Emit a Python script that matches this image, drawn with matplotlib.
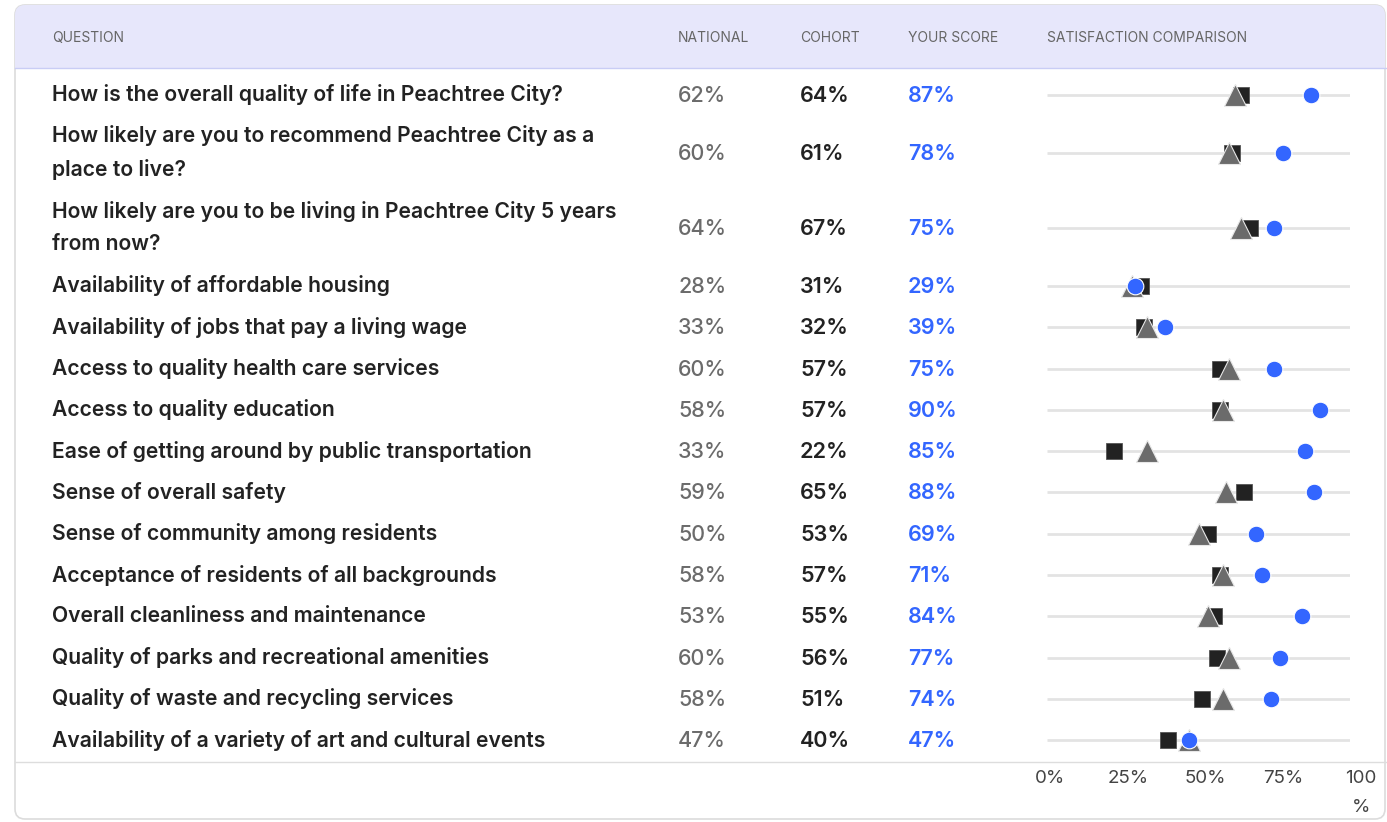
import matplotlib.pyplot as plt
from matplotlib.patches import FancyBboxPatch, Rectangle
from matplotlib.transforms import ScaledTranslation

questions = [
    "How is the overall quality of life in Peachtree City?",
    "How likely are you to recommend Peachtree City as a\nplace to live?",
    "How likely are you to be living in Peachtree City 5 years\nfrom now?",
    "Availability of affordable housing",
    "Availability of jobs that pay a living wage",
    "Access to quality health care services",
    "Access to quality education",
    "Ease of getting around by public transportation",
    "Sense of overall safety",
    "Sense of community among residents",
    "Acceptance of residents of all backgrounds",
    "Overall cleanliness and maintenance",
    "Quality of parks and recreational amenities",
    "Quality of waste and recycling services",
    "Availability of a variety of art and cultural events",
]
national = [62, 60, 64, 28, 33, 60, 58, 33, 59, 50, 58, 53, 60, 58, 47]
cohort = [64, 61, 67, 31, 32, 57, 57, 22, 65, 53, 57, 55, 56, 51, 40]
score = [87, 78, 75, 29, 39, 75, 90, 85, 88, 69, 71, 84, 77, 74, 47]
headers = ["QUESTION", "NATIONAL", "COHORT", "YOUR SCORE", "SATISFACTION COMPARISON"]
tick_vals = [0, 25, 50, 75, 100]
tick_labels = ["0%", "25%", "50%", "75%", "100\n%"]

W, H = 1387, 822
plt.rcParams['font.family'] = ['Inter', 'DejaVu Sans']
fig = plt.figure(figsize=(W / 100, H / 100), dpi=100)
ax = fig.add_axes([0, 0, 1, 1])
ax.set_xlim(0, W)
ax.set_ylim(H, 0)
ax.axis('off')

# card + header
card = FancyBboxPatch((15, 5), W - 17, H - 8, boxstyle="round,pad=0,rounding_size=10",
                      fc='white', ec='#dcdcdc', lw=1.2)
ax.add_patch(card)
head = Rectangle((15, 5), W, 63, fc='#e7e7fb', ec='none')
ax.add_patch(head)
head.set_clip_path(card)
ax.plot([15, W], [68, 68], color='#c9cdf5', lw=1)
ax.plot([15, W], [762, 762], color='#dddddd', lw=1)

col_x = [52, 678, 800, 908, 1047]
for x, t in zip(col_x, headers):
    ax.text(x, 38, t, fontsize=10, color='#666666', va='center', ha='left')

# row centres from line counts
top = 74
row_y = []
for q in questions:
    h = 75 if '\n' in q else 41.3
    row_y.append(top + h / 2)
    top += h

for i, q in enumerate(questions):
    y = row_y[i]
    ax.text(52, y, q, fontsize=15.2, fontweight='semibold', color='#222222',
            va='center', ha='left', linespacing=1.75)
    ax.text(678, y + 1, f"{national[i]}%", fontsize=15.5, fontweight='medium', color='#6b6b6b', va='center')
    ax.text(800, y + 1, f"{cohort[i]}%", fontsize=15.5, fontweight='semibold', color='#222222', va='center')
    ax.text(908, y + 1, f"{score[i]}%", fontsize=15.5, fontweight='semibold', color='#3366ff', va='center')

# comparison dot plot
dax = fig.add_axes([1047 / W, (H - 762) / H, 303 / W, (762 - 68) / H])
dax.set_xlim(0, 100)
dax.set_ylim(762, 68)
dax.patch.set_alpha(0)
for s in dax.spines.values():
    s.set_visible(False)
dax.set_yticks([])
dax.hlines(row_y, 0, 100, color='#e3e3e3', lw=2, zorder=1)
dax.plot(cohort, row_y, 's', ms=11.5, color='#222222', mec='#555555', mew=0.6, zorder=2, clip_on=False)
dax.plot(national, row_y, '^', ms=16, color='#6b6b6b', mec='#e8e8e8', mew=0.8, zorder=3, clip_on=False)
dax.plot(score, row_y, 'o', ms=12, color='#3366ff', mec='white', mew=0.8, zorder=4, clip_on=False)
dax.set_xticks(tick_vals)
dax.set_xticklabels(tick_labels, fontsize=13.5, color='#444444', linespacing=1.9)
dax.tick_params(axis='x', length=0, pad=6)
for v, lbl in zip(tick_vals, dax.get_xticklabels()):
    shift = (3 + 0.08 * v) / 100
    lbl.set_transform(lbl.get_transform() + ScaledTranslation(shift, 0, fig.dpi_scale_trans))

fig.savefig('out.png', dpi=100)
